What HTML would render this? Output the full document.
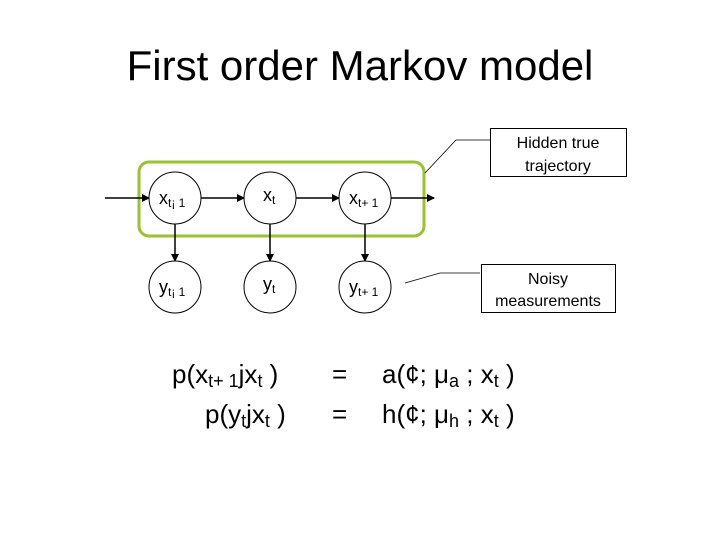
<!DOCTYPE html>
<html><head><style>
body{margin:0;width:720px;height:540px;background:#fff;font-family:"Liberation Sans",sans-serif;overflow:hidden;position:relative}
.t{position:absolute;white-space:nowrap}
</style></head><body>
<div class="t" style="left:0;width:720px;text-align:center;top:42px;font-size:42px">First order Markov model</div>
<svg width="720" height="540" style="position:absolute;left:0;top:0" font-family="Liberation Sans, sans-serif">
<defs><marker id="a" markerWidth="8" markerHeight="8" refX="7" refY="4" orient="auto" markerUnits="userSpaceOnUse"><path d="M0,0 L8,4 L0,8z" fill="#000"/></marker></defs>
<rect x="139" y="162" width="285" height="74" rx="10" fill="none" stroke="#99c233" stroke-width="3"/>
<g stroke="#000" stroke-width="1.5" marker-end="url(#a)">
<line x1="105" y1="198" x2="149" y2="198"/>
<line x1="201" y1="198" x2="244" y2="198"/>
<line x1="296" y1="198" x2="339" y2="198"/>
<line x1="391" y1="198" x2="434" y2="198"/>
<line x1="175" y1="224" x2="175" y2="261"/>
<line x1="270" y1="224" x2="270" y2="261"/>
<line x1="365" y1="224" x2="365" y2="261"/>
</g>
<g fill="#fff" stroke="#000" stroke-width="1">
<circle cx="175" cy="198" r="26"/><circle cx="270" cy="198" r="26"/><circle cx="365" cy="198" r="26"/>
<circle cx="175" cy="287" r="26"/><circle cx="270" cy="287" r="26"/><circle cx="365" cy="287" r="26"/>
</g>
<g font-size="18">
<text x="159" y="204">x<tspan font-size="12" dy="3">t¡ 1</tspan></text>
<text x="263" y="201">x<tspan font-size="12" dy="3">t</tspan></text>
<text x="349" y="204">x<tspan font-size="12" dy="3">t+ 1</tspan></text>
<text x="159" y="293">y<tspan font-size="12" dy="3">t¡ 1</tspan></text>
<text x="263" y="290">y<tspan font-size="12" dy="3">t</tspan></text>
<text x="349" y="293">y<tspan font-size="12" dy="3">t+ 1</tspan></text>
</g>
<polyline points="425,173 456,140 490,140" fill="none" stroke="#000" stroke-width="0.8"/>
<polyline points="405,283 440,273 480,273" fill="none" stroke="#000" stroke-width="0.8"/>
<rect x="490.5" y="128.5" width="136" height="48" fill="#fff" stroke="#000"/>
<rect x="481.5" y="264.5" width="134" height="48" fill="#fff" stroke="#000"/>
<g font-size="16" text-anchor="middle">
<text x="558" y="148">Hidden true</text><text x="558" y="171">trajectory</text>
<text x="548" y="284">Noisy</text><text x="548" y="306">measurements</text>
</g>
<g font-size="26">
<text x="172" y="383">p(x<tspan font-size="18" dy="4">t+ 1</tspan><tspan dy="-4">jx</tspan><tspan font-size="18" dy="4">t</tspan><tspan dy="-4"> )</tspan></text>
<text x="332" y="383">=</text>
<text x="382" y="383">a(¢; μ<tspan font-size="18" dy="4">a</tspan><tspan dy="-4"> ; x</tspan><tspan font-size="18" dy="4">t</tspan><tspan dy="-4"> )</tspan></text>
<text x="205" y="423">p(y<tspan font-size="18" dy="4">t</tspan><tspan dy="-4">jx</tspan><tspan font-size="18" dy="4">t</tspan><tspan dy="-4"> )</tspan></text>
<text x="332" y="423">=</text>
<text x="382" y="423">h(¢; μ<tspan font-size="18" dy="4">h</tspan><tspan dy="-4"> ; x</tspan><tspan font-size="18" dy="4">t</tspan><tspan dy="-4"> )</tspan></text>
</g>
</svg>
</body></html>
